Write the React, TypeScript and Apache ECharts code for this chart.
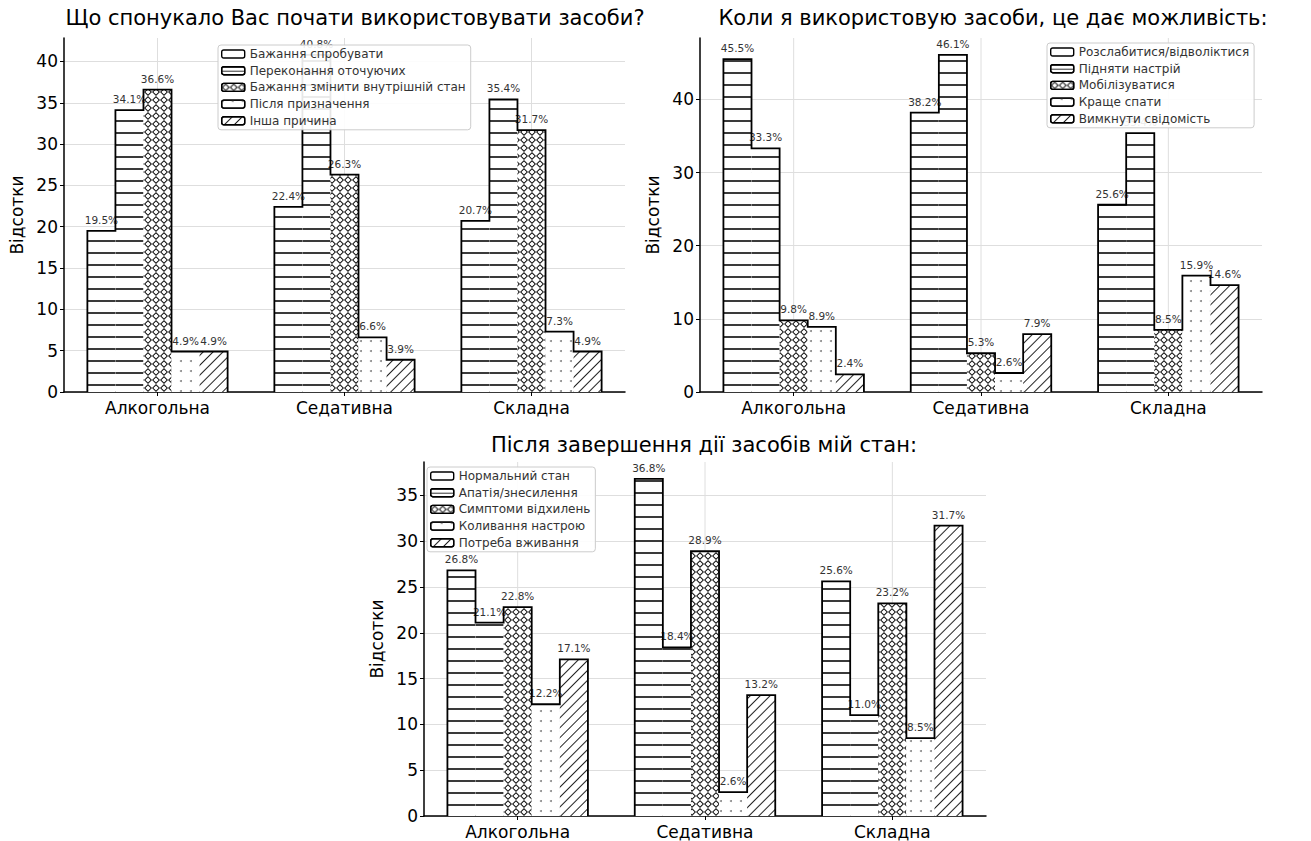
import React, { useEffect, useRef } from 'react';
import * as echarts from 'echarts';

const categories = ['Алкогольна', 'Седативна', 'Складна'];

const title1 = 'Що спонукало Вас почати використовувати засоби?';
const title2 = 'Коли я використовую засоби, це дає можливість:';
const title3 = 'Після завершення дії засобів мій стан:';

const names1 = ['Бажання спробувати', 'Переконання оточуючих', 'Бажання змінити внутрішній стан', 'Після призначення', 'Інша причина'];
const values1 = [
  [19.5, 22.4, 20.7],
  [34.1, 40.8, 35.4],
  [36.6, 26.3, 31.7],
  [4.9, 6.6, 7.3],
  [4.9, 3.9, 4.9],
];

const names2 = ['Розслабитися/відволіктися', 'Підняти настрій', 'Мобілізуватися', 'Краще спати', 'Вимкнути свідомість'];
const values2 = [
  [45.5, 38.2, 25.6],
  [33.3, 46.1, 35.4],
  [9.8, 5.3, 8.5],
  [8.9, 2.6, 15.9],
  [2.4, 7.9, 14.6],
];

const names3 = ['Нормальний стан', 'Апатія/знесилення', 'Симптоми відхилень', 'Коливання настрою', 'Потреба вживання'];
const values3 = [
  [26.8, 36.8, 25.6],
  [21.1, 18.4, 11.0],
  [22.8, 28.9, 23.2],
  [12.2, 2.6, 8.5],
  [17.1, 13.2, 31.7],
];

const yMaxes = [42.84, 48.4, 38.64];
const yIntervals = [5, 10, 5];
const yName = 'Відсотки';

const FONT = '"DejaVu Sans", "Noto Sans", sans-serif';

const hLines = { symbol: 'rect', symbolSize: 1, dashArrayX: [1, 0], dashArrayY: [2, 10], color: '#3a3a3a', rotation: 0 };
const cross = {
  symbol: 'path://M4,0L8,4L4,8L0,4Z M4,1.4L1.4,4L4,6.6L6.6,4Z',
  symbolSize: 1, dashArrayX: [8, 0], dashArrayY: [8, 0], color: '#111', rotation: 0,
};
const dots = { symbol: 'circle', symbolSize: 1, dashArrayX: [2, 8], dashArrayY: [2, 8], color: '#8a8a8a', rotation: 0 };
const diag = { symbol: 'rect', symbolSize: 1, dashArrayX: [1, 0], dashArrayY: [1, 6], color: '#222', rotation: -Math.PI / 4 };
const decals = [hLines, hLines, cross, dots, diag];
const legendHLines = { symbol: 'rect', symbolSize: 1, dashArrayX: [1, 0], dashArrayY: [1, 3], color: '#333', rotation: 0 };

const grids = [
  { left: 64, top: 38, width: 561, height: 354 },
  { left: 700, top: 38, width: 562, height: 354 },
  { left: 424, top: 462, width: 562, height: 354 },
];
const legendPos = [
  { left: 218, top: 45 },
  { left: 1047, top: 43 },
  { left: 427, top: 467 },
];
const titlePos = [
  { x: 355, y: 18 },
  { x: 993, y: 18 },
  { x: 704, y: 445 },
];

export default function App() {
  const ref = useRef<HTMLDivElement>(null);
  useEffect(() => {
    if (!ref.current) return;
    const chart = echarts.init(ref.current, null, { renderer: 'svg' });
    const allNames = [names1, names2, names3];
    const allValues = [values1, values2, values3];
    const titles = [title1, title2, title3];

    const series: any[] = [];
    const legends: any[] = [];
    const xAxes: any[] = [];
    const yAxes: any[] = [];

    for (let g = 0; g < 3; g++) {
      const names = allNames[g];
      const vals = allValues[g];
      xAxes.push({
        type: 'category', gridIndex: g, data: categories,
        axisLine: { show: true, lineStyle: { color: '#000', width: 1.5 } },
        axisTick: { show: true, alignWithLabel: true, length: 4, lineStyle: { color: '#000' } },
        axisLabel: { fontSize: 17, color: '#000', fontFamily: FONT, margin: 7 },
        splitLine: { show: false },
      });
      yAxes.push({
        type: 'value', gridIndex: g, min: 0, max: yMaxes[g], interval: yIntervals[g],
        name: yName, nameLocation: 'middle', nameGap: 39, nameRotate: 90,
        nameTextStyle: { fontSize: 17, color: '#000', fontFamily: FONT },
        axisLine: { show: true, lineStyle: { color: '#000', width: 1.5 } },
        axisTick: { show: true, length: 4, lineStyle: { color: '#000' } },
        axisLabel: { fontSize: 17, color: '#000', fontFamily: FONT, margin: 6, showMaxLabel: false },
        splitLine: { show: true, showMaxLine: false, lineStyle: { color: '#dedede', width: 1 } },
      });
      // vertical grid lines at category centres
      series.push({
        type: 'custom', xAxisIndex: g, yAxisIndex: g, z: 1, silent: true,
        data: categories.map((c, k) => [k, 0]),
        renderItem: (params: any, api: any) => {
          const cs = params.coordSys;
          const p = api.coord([api.value(0), 0]);
          return {
            type: 'line',
            shape: { x1: p[0], y1: cs.y, x2: p[0], y2: cs.y + cs.height },
            style: { stroke: '#dedede', lineWidth: 1 },
          };
        },
      });
      for (let s = 0; s < 5; s++) {
        series.push({
          type: 'bar', name: names[s], xAxisIndex: g, yAxisIndex: g,
          data: vals[s], barGap: '0%', barCategoryGap: '25%',
          itemStyle: { color: '#fff', borderWidth: 0, decal: decals[s] },
          label: {
            show: true, position: 'top', distance: 5.5,
            formatter: (p: any) => Number(p.value).toFixed(1) + '%',
            fontSize: 10.5, color: '#333', fontFamily: FONT,
          },
          z: 2,
        });
      }
      // step outline
      series.push({
        type: 'custom', xAxisIndex: g, yAxisIndex: g, z: 3, silent: true,
        data: categories.map((c, k) => [k, vals[0][k], vals[1][k], vals[2][k], vals[3][k], vals[4][k]]),
        renderItem: (params: any, api: any) => {
          const k = api.value(0);
          const band = api.size([1, 0])[0];
          const base = api.coord([k, 0]);
          const w = band * 0.15;
          const x0 = base[0] - band * 0.375;
          const pts: number[][] = [[x0, base[1]]];
          for (let j = 0; j < 5; j++) {
            const y = api.coord([k, api.value(j + 1)])[1];
            pts.push([x0 + j * w, y], [x0 + (j + 1) * w, y]);
          }
          pts.push([x0 + 5 * w, base[1]]);
          return {
            type: 'polyline',
            shape: { points: pts },
            style: { stroke: '#000', lineWidth: 1.8, fill: null },
          };
        },
      });
      legends.push({
        ...legendPos[g], orient: 'vertical', itemGap: 4.7, itemWidth: 23, itemHeight: 8,
        padding: [3, 5, 3, 3], backgroundColor: 'rgba(255,255,255,0.9)', borderColor: '#cccccc', borderWidth: 1, borderRadius: 3,
        textStyle: { fontSize: 12, lineHeight: 12, color: '#333', fontFamily: FONT },
        itemStyle: { borderColor: '#000', borderWidth: 1.4 },
        data: names.map((n, i) => {
          if (i === 0) return { name: n, itemStyle: { decal: 'none' } };
          if (i === 1) return { name: n, itemStyle: { decal: legendHLines } };
          return { name: n };
        }),
        selectedMode: false, z: 10,
      });
    }

    chart.setOption({
      animation: false,
      backgroundColor: '#fff',
      grid: grids.map((gr) => ({ ...gr, containLabel: false })),
      xAxis: xAxes,
      yAxis: yAxes,
      legend: legends,
      series,
      graphic: titles.map((t, i) => ({
        type: 'text', x: titlePos[i].x, y: titlePos[i].y,
        style: { text: t, font: `21px ${FONT}`, fill: '#000', textAlign: 'center', textVerticalAlign: 'middle' },
      })),
    });
    return () => chart.dispose();
  }, []);
  return <div ref={ref} style={{ position: 'absolute', left: 0, top: 0, width: 1311, height: 841 }} />;
}
